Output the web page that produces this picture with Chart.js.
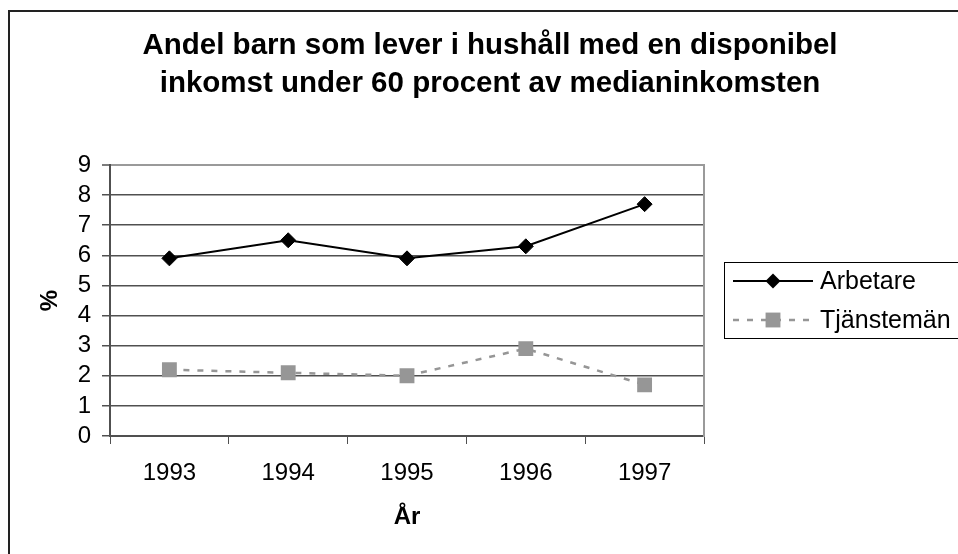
<!DOCTYPE html>
<html>
<head>
<meta charset="utf-8">
<script src="https://cdn.jsdelivr.net/npm/chart.js"></script>
<style>
  body { margin: 0; background: #fff; }
  #wrap { width: 958px; height: 554px; }
</style>
</head>
<body>
<div id="wrap"><canvas id="chart"></canvas></div>
<script>
// data
const years = ["1993", "1994", "1995", "1996", "1997"];
const arbetare = [5.9, 6.5, 5.9, 6.3, 7.7];
const tjansteman = [2.2, 2.1, 2.0, 2.9, 1.7];
const seriesNames = ["Arbetare", "Tjänstemän"];
const titleLines = ["Andel barn som lever i hushåll med en disponibel", "inkomst under 60 procent av medianinkomsten"];
const yMin = 0, yMax = 9, yStep = 1;

const FONT = "'Liberation Sans', Arial, sans-serif";
const gridColor = "#505050";
const frameColor = "#9a9a9a";

// outer frame + white background
const frame = {
  id: "frame",
  beforeDraw(chart) {
    const c = chart.ctx;
    c.save();
    c.fillStyle = "#fff";
    c.fillRect(0, 0, chart.width, chart.height);
    c.strokeStyle = "#222";
    c.lineWidth = 2;
    c.beginPath();
    c.moveTo(9, chart.height + 5);
    c.lineTo(9, 11);
    c.lineTo(chart.width + 5, 11);
    c.stroke();
    c.restore();
  }
};

// legend in the excel style: line + marker sample in a box
const boxLegend = {
  id: "boxLegend",
  afterDraw(chart) {
    const c = chart.ctx;
    c.save();
    c.strokeStyle = "#000";
    c.lineWidth = 1;
    c.strokeRect(724.5, 262.5, 260, 76);
    const rows = [281, 320];
    chart.data.datasets.forEach((ds, i) => {
      const y = rows[i];
      c.strokeStyle = ds.borderColor;
      c.lineWidth = ds.borderWidth;
      c.setLineDash(ds.borderDash || []);
      c.beginPath();
      c.moveTo(733, y);
      c.lineTo(813, y);
      c.stroke();
      c.setLineDash([]);
      c.fillStyle = ds.pointBackgroundColor;
      const r = ds.pointRadius;
      c.beginPath();
      if (ds.pointStyle === "rectRot") {
        c.moveTo(773 - r, y); c.lineTo(773, y - r); c.lineTo(773 + r, y); c.lineTo(773, y + r);
      } else {
        const s = r * Math.SQRT1_2;
        c.rect(773 - s, y - s, 2 * s, 2 * s);
      }
      c.closePath();
      c.fill();
      c.fillStyle = "#000";
      c.font = "25px " + FONT;
      c.textBaseline = "middle";
      c.fillText(ds.label, 820, y + 1);
    });
    c.restore();
  }
};

new Chart(document.getElementById("chart"), {
  type: "line",
  data: {
    labels: years,
    datasets: [
      {
        label: seriesNames[0],
        data: arbetare,
        borderColor: "#000",
        borderWidth: 2,
        pointStyle: "rectRot",
        pointRadius: 7.5,
        pointBackgroundColor: "#000",
        pointBorderColor: "#000",
        pointBorderWidth: 1,
        tension: 0,
      },
      {
        label: seriesNames[1],
        data: tjansteman,
        borderColor: "#969696",
        borderWidth: 2.5,
        borderDash: [6, 8],
        pointStyle: "rect",
        pointRadius: 10.5,
        pointBackgroundColor: "#969696",
        pointBorderColor: "#969696",
        pointBorderWidth: 0,
        tension: 0,
      },
    ],
  },
  options: {
    responsive: true,
    maintainAspectRatio: false,
    animation: false,
    layout: { padding: { left: 22, right: 0, top: 0, bottom: 0 } },
    plugins: {
      legend: { display: false },
      tooltip: { enabled: false },
      title: {
        display: true,
        text: titleLines,
        color: "#000",
        font: { family: FONT, size: 29.5, weight: "bold", lineHeight: 38 / 29.5 },
        padding: { top: 27, bottom: 62 },
      },
    },
    scales: {
      x: {
        type: "category",
        offset: true,
        grid: { drawOnChartArea: false, drawTicks: true, tickLength: 8, color: gridColor, offset: true },
        border: { color: gridColor, width: 2 },
        ticks: { color: "#000", font: { family: FONT, size: 24 }, padding: 15, maxRotation: 0 },
        title: {
          display: true,
          text: "År",
          color: "#000",
          font: { family: FONT, size: 24, weight: "bold" },
          padding: { top: 0, bottom: 22 },
        },
        afterFit(s) { s.height = 118; },
      },
      y: {
        min: yMin,
        max: yMax,
        ticks: { stepSize: yStep, autoSkip: false, color: "#000", font: { family: FONT, size: 24 }, padding: 11 },
        grid: {
          color: (ctx) => (ctx.tick && ctx.tick.value === yMax ? frameColor : gridColor),
          lineWidth: (ctx) => (ctx.tick && ctx.tick.value === yMax ? 2 : 1.5),
          tickColor: gridColor,
          tickWidth: 1.5,
          tickLength: 8,
        },
        border: { color: gridColor, width: 2 },
        title: {
          display: true,
          text: "%",
          color: "#000",
          font: { family: FONT, size: 24, weight: "bold" },
          padding: { top: 14, bottom: 0 },
        },
        afterFit(s) { s.width = 88; },
      },
      yR: {
        position: "right",
        display: true,
        min: yMin,
        max: yMax,
        grid: { display: false },
        ticks: { display: false },
        border: { color: frameColor, width: 2 },
        afterFit(s) { s.width = 254; },
      },
    },
  },
  plugins: [frame, boxLegend],
});
</script>
</body>
</html>
